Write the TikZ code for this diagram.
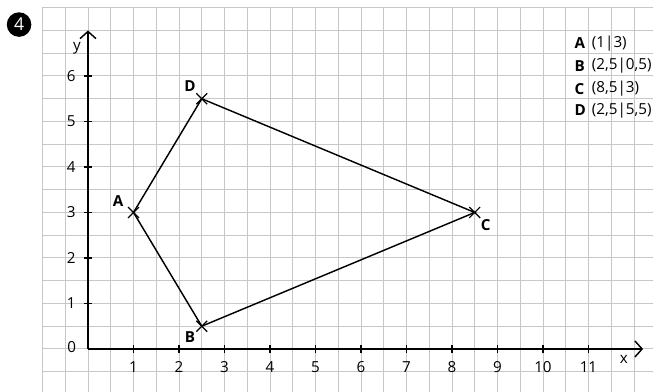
\documentclass[tikz,border=0pt]{standalone}
\usepackage{fontspec}
\setmainfont{Open Sans}
\usetikzlibrary{arrows.meta,calc}
\tikzset{
  gridline/.style={draw=black!22, line width=0.6pt},
  axis/.style={line width=1.2pt, -{Straight Barb[length=4.5pt,width=10pt,line width=0.9pt]}},
  edge/.style={line width=0.9pt},
  tick/.style={line width=0.9pt},
  lbl/.style={font=\fontsize{9.5}{11}\selectfont, inner sep=0pt},
  ptlbl/.style={font=\fontsize{9.5}{11}\selectfont\bfseries, inner sep=0pt},
  crossmark/.style={line width=0.7pt}
}
\begin{document}
\begin{tikzpicture}[x=1cm,y=1cm]
\useasboundingbox (-1.934,-0.945) rectangle (12.418,7.670);
% grid
\draw[gridline] (-1,-0.945) grid[step=0.5] (12.418,7.5);
% task number
\node[circle, fill=black, minimum size=0.54cm, inner sep=0pt, text=white, font=\fontsize{11}{13}\selectfont] (num) at (-1.515,7.13) {4};
% axes
\coordinate (O) at (0,0);
\coordinate (xend) at (12.2,0);
\coordinate (yend) at (0,7.0);
\draw[axis] (O) -- (xend);
\draw[axis] (O) -- (yend);
\node[lbl] (xl) at (11.78,-0.24) {x};
\node[lbl] (yl) at (-0.24,6.62) {y};
\node[lbl] (zero) at (-0.36,0.05) {0};
\foreach \i in {1,...,11} {
  \draw[tick] (\i,-0.09) -- (\i,0.09);
  \node[lbl] (xt\i) at (\i,-0.4) {\i};
}
\foreach \j in {1,...,6} {
  \draw[tick] (-0.09,\j) -- (0.09,\j);
  \node[lbl] (yt\j) at (-0.37,\j) {\j};
}
% points
\coordinate (A) at (1,3);
\coordinate (B) at (2.5,0.5);
\coordinate (C) at (8.5,3);
\coordinate (D) at (2.5,5.5);
\draw[edge] (A) -- (B) -- (C) -- (D) -- cycle;
\foreach \p in {A,B,C,D} {
  \draw[crossmark] ($(\p)+(-0.12,-0.12)$) -- ($(\p)+(0.12,0.12)$);
  \draw[crossmark] ($(\p)+(-0.12,0.12)$) -- ($(\p)+(0.12,-0.12)$);
}
\node[ptlbl] (Al) at (0.66,3.24) {A};
\node[ptlbl] (Bl) at (2.24,0.27) {B};
\node[ptlbl] (Cl) at (8.74,2.73) {C};
\node[ptlbl] (Dl) at (2.24,5.78) {D};
% legend
\node[ptlbl, anchor=west] (LA) at (10.69,6.72) {A};
\node[lbl, anchor=west] (LAc) at (11.07,6.72) {(1|3)};
\node[ptlbl, anchor=west] (LB) at (10.69,6.22) {B};
\node[lbl, anchor=west] (LBc) at (11.07,6.22) {(2,5|0,5)};
\node[ptlbl, anchor=west] (LC) at (10.69,5.72) {C};
\node[lbl, anchor=west] (LCc) at (11.07,5.72) {(8,5|3)};
\node[ptlbl, anchor=west] (LD) at (10.69,5.24) {D};
\node[lbl, anchor=west] (LDc) at (11.07,5.24) {(2,5|5,5)};
\end{tikzpicture}
\end{document}
